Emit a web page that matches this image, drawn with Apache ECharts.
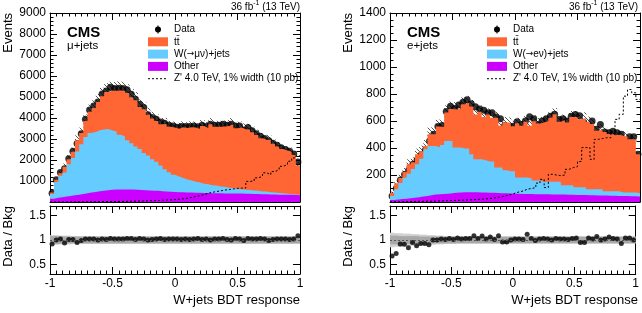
<!DOCTYPE html>
<html><head><meta charset="utf-8">
<script src="https://cdn.jsdelivr.net/npm/echarts@6.0.0/dist/echarts.min.js"></script>
<style>html,body{margin:0;padding:0;background:#fff;}#chart{width:642px;height:313px;}</style>
</head><body><div id="chart"></div>
<script>
// ---------- mu+jets ----------
const muData = [420,1060,1400,1580,2060,2420,2790,3250,3940,4380,
 4570,4760,5140,5290,5460,5400,5420,5400,5350,5130,
 4890,4660,4500,4150,4020,3940,3810,3750,3650,3620,
 3560,3590,3590,3590,3620,3580,3650,3590,3700,3650,
 3650,3700,3650,3700,3620,3620,3430,3550,3390,3250,
 3130,3020,2920,2800,2700,2580,2500,2420,2280,1900];
const muRatio = [0.92,1.00,1.02,0.94,1.01,1.01,0.95,0.99,1.02,1.02,
 1.02,1.00,1.02,1.01,1.03,1.02,1.02,1.02,1.03,1.03,
 1.01,1.03,1.02,1.00,1.01,1.02,1.03,1.01,1.02,1.02,
 1.02,1.01,1.02,1.01,1.02,1.03,1.01,1.02,1.00,1.02,
 1.02,1.03,1.01,1.00,1.03,1.02,0.99,1.03,1.02,1.02,
 1.03,1.02,0.99,1.01,1.02,1.02,1.02,1.01,1.02,1.09];
const muTtbarTop = [457,1060,1373,1681,2040,2396,2937,3283,3863,4294,
 4480,4760,5039,5238,5301,5294,5314,5294,5194,4981,
 4842,4524,4412,4150,3980,3863,3699,3713,3578,3549,
 3490,3554,3520,3554,3549,3476,3614,3520,3700,3578,
 3578,3592,3614,3700,3515,3549,3465,3447,3324,3186,
 3039,2961,2949,2772,2647,2529,2451,2396,2235,1743];
const muWjetsTop = [380,950,1250,1400,1800,2100,2400,2750,3100,3280,
 3330,3420,3450,3480,3400,3360,3200,3120,2940,2800,
 2640,2520,2330,2210,2040,1920,1740,1560,1420,1300,
 1210,1140,1070,1020,960,930,870,850,800,790,
 740,730,680,670,620,610,580,575,545,535,
 505,495,465,455,425,415,390,385,360,350];
const muOtherTop = [150,200,230,260,290,320,350,380,420,450,
 480,510,540,560,580,590,600,600,600,590,
 580,570,560,550,540,530,510,500,490,480,
 470,460,450,450,440,440,430,430,420,420,
 420,410,410,400,400,400,390,390,380,380,
 370,370,360,360,350,350,340,340,330,320];
const muZprime = [0,0,0,0,5,5,5,10,10,10,
 15,15,20,20,25,25,30,30,35,40,
 45,50,55,60,65,70,80,90,100,115,
 130,150,180,220,260,300,350,420,460,500,
 530,570,590,620,650,660,670,980,1000,1150,
 1220,1390,1300,1450,1540,1700,1780,1940,2100,2200];
const muUncTot = [0.10,0.10,0.09,0.09,0.09,0.08,0.08,0.08,0.08,0.08,
 0.08,0.08,0.08,0.08,0.08,0.08,0.08,0.08,0.08,0.08,
 0.08,0.08,0.08,0.08,0.08,0.08,0.08,0.08,0.08,0.08,
 0.08,0.08,0.08,0.08,0.08,0.08,0.08,0.08,0.08,0.08,
 0.08,0.08,0.08,0.08,0.08,0.08,0.08,0.08,0.08,0.08,
 0.08,0.08,0.08,0.08,0.08,0.08,0.08,0.08,0.08,0.08];
const muUncSys = [0.08,0.08,0.08,0.07,0.07,0.07,0.07,0.07,0.07,0.07,
 0.07,0.07,0.07,0.07,0.07,0.07,0.07,0.07,0.07,0.07,
 0.07,0.07,0.07,0.07,0.07,0.07,0.07,0.07,0.07,0.07,
 0.07,0.07,0.07,0.07,0.07,0.07,0.07,0.07,0.07,0.07,
 0.07,0.07,0.07,0.07,0.07,0.07,0.07,0.07,0.07,0.07,
 0.07,0.07,0.07,0.07,0.07,0.07,0.07,0.07,0.07,0.07];

// ---------- e+jets ----------
const elData = [45,100,163,203,235,280,311,350,385,452,
 501,560,567,670,710,692,718,738,757,728,
 706,688,680,661,661,630,617,565,562,562,
 595,575,600,632,617,575,600,617,636,650,
 612,617,600,636,648,638,590,562,600,538,
 575,518,513,525,513,501,452,484,484,353];
const elRatio = [0.67,0.72,0.92,0.91,0.84,0.95,0.88,0.93,0.93,0.90,
 1.00,1.00,1.02,1.01,1.03,1.01,1.04,1.02,1.03,1.03,
 1.09,1.03,1.08,1.02,1.06,1.01,1.09,0.96,0.96,1.00,
 1.02,1.02,1.01,1.12,1.03,0.99,1.02,1.03,1.02,1.00,
 1.03,1.02,1.02,1.01,1.03,1.04,0.95,0.95,1.04,1.02,
 1.07,1.00,1.02,1.06,1.03,1.02,0.93,1.04,1.04,1.00];
const elTtbarTop = [67,139,177,223,280,295,353,376,414,502,
 501,560,556,663,689,685,690,724,735,707,
 648,668,630,648,624,624,566,589,585,562,
 583,564,594,564,599,581,588,599,624,650,
 594,605,588,630,629,613,621,592,577,527,
 537,518,503,495,498,491,486,465,465,353];
const elWjetsTop = [45,95,140,180,210,245,280,320,390,415,
 415,405,422,452,452,403,403,396,396,353,
 316,316,309,300,300,255,255,236,228,228,
 181,181,181,175,160,160,150,150,150,150,
 150,125,125,125,110,110,110,95,95,95,
 95,80,80,80,80,70,70,70,70,65];
const elOtherTop = [15,18,22,25,28,32,36,40,45,50,
 55,58,60,62,65,68,70,72,72,72,
 72,70,70,68,68,66,65,64,63,62,
 62,60,60,60,58,58,58,57,56,56,
 55,55,54,53,52,52,51,50,50,49,
 48,48,47,46,45,44,44,43,42,40];
const elZprime = [2,2,3,3,4,4,5,5,6,6,
 7,8,9,10,11,12,13,14,15,17,
 19,21,23,26,30,35,40,48,55,65,
 75,82,95,100,107,140,168,107,205,200,
 195,200,242,255,262,300,403,403,316,464,
 470,476,476,525,612,650,784,833,809,760];
const elUncTot = [0.15,0.14,0.14,0.13,0.13,0.12,0.12,0.11,0.11,0.10,
 0.10,0.09,0.09,0.08,0.08,0.08,0.07,0.07,0.07,0.07,
 0.07,0.07,0.07,0.07,0.07,0.07,0.07,0.07,0.07,0.07,
 0.07,0.07,0.07,0.07,0.07,0.07,0.07,0.07,0.07,0.07,
 0.07,0.07,0.07,0.07,0.07,0.07,0.07,0.07,0.07,0.07,
 0.07,0.07,0.07,0.07,0.07,0.07,0.07,0.07,0.07,0.07];
const elUncSys = [0.09,0.09,0.08,0.08,0.08,0.08,0.08,0.07,0.07,0.07,
 0.07,0.07,0.07,0.07,0.07,0.07,0.07,0.07,0.07,0.07,
 0.07,0.07,0.07,0.07,0.07,0.07,0.07,0.07,0.07,0.07,
 0.07,0.07,0.07,0.07,0.07,0.07,0.07,0.07,0.07,0.07,
 0.07,0.07,0.07,0.07,0.07,0.07,0.07,0.07,0.07,0.07,
 0.07,0.07,0.07,0.07,0.07,0.07,0.07,0.07,0.07,0.07];

const ratioTicks = [0.5, 1, 1.5];

// ---------- drawing ----------
const FF = '"Liberation Sans", Arial, Helvetica, sans-serif';
const C_TT = '#ff6633', C_W = '#66ccff', C_OTHER = '#cc00ff';
const nBins = muData.length, xLo = -1, xHi = 1, binW = (xHi - xLo) / nBins;
function stepPts(v){ const p = v.map((y,i)=>[xLo + i*binW, y]); p.push([xHi, v[v.length-1]]); return p; }
function centerPts(v){ return v.map((y,i)=>[xLo + (i+0.5)*binW, y]); }

const hatch = document.createElement('canvas'); hatch.width = 4; hatch.height = 4;
const hc = hatch.getContext('2d'); hc.strokeStyle = 'rgba(50,50,50,0.9)'; hc.lineWidth = 0.9;
hc.beginPath(); hc.moveTo(-1,-1); hc.lineTo(5,5); hc.moveTo(-1,3); hc.lineTo(1,5); hc.moveTo(3,-1); hc.lineTo(5,1); hc.stroke();
const hatchFill = {image:hatch, repeat:'repeat'};

const noLine = {width:0, opacity:0};
function area(name, xi, yi, vals, color){
  return {type:'line', name, xAxisIndex:xi, yAxisIndex:yi, data:stepPts(vals), step:'end', symbol:'none',
    lineStyle:noLine, areaStyle:{color, opacity:1}, silent:true};
}
function band(xi, yi, lo, hi, fill){
  return {type:'custom', xAxisIndex:xi, yAxisIndex:yi, silent:true,
    data: lo.map((l,i)=>[xLo + i*binW, xLo + (i+1)*binW, l, hi[i]]),
    encode:{x:[0,1], y:[2,3]},
    renderItem:function(params, api){
      const p0 = api.coord([api.value(0), api.value(3)]);
      const p1 = api.coord([api.value(1), api.value(2)]);
      const cs = params.coordSys;
      const r = echarts.graphic.clipRectByRect(
        {x:p0[0], y:p0[1], width:p1[0]-p0[0]+0.5, height:p1[1]-p0[1]},
        {x:cs.x, y:cs.y, width:cs.width, height:cs.height});
      return r && {type:'rect', shape:r, style:{fill:fill}};
    }};
}
function mainSeries(g, d){
  const xi = 2*g, yi = 2*g;
  return [
    area('ttbar', xi, yi, d.tt, C_TT),
    area('wjets', xi, yi, d.w, C_W),
    area('other', xi, yi, d.o, C_OTHER),
    band(xi, yi, d.tt.map((t,i)=>t*(1-d.u[i])), d.tt.map((t,i)=>t*(1+d.u[i])), hatchFill),
    {type:'line', name:'zp', xAxisIndex:xi, yAxisIndex:yi, data:stepPts(d.z), step:'end', symbol:'none', lineStyle:{color:'#000', width:1, type:[2,2]}, silent:true},
    {type:'scatter', name:'data', xAxisIndex:xi, yAxisIndex:yi, data:centerPts(d.data), symbolSize:7, itemStyle:{color:'#000'}, silent:true}
  ];
}
function ratioSeries(g, d){
  const xi = 2*g, yi = 2*g;
  return [
    band(xi, yi, d.ut.map(u=>1-u), d.ut.map(u=>1+u), '#d0d0d0'),
    band(xi, yi, d.us.map(u=>1-u), d.us.map(u=>1+u), '#a8a8a8'),
    {type:'scatter', xAxisIndex:xi, yAxisIndex:yi, data:centerPts(d.r), symbolSize:5, itemStyle:{color:'#000'}, silent:true,
      markLine:{silent:true, symbol:'none', label:{show:false}, lineStyle:{color:'#555', width:1, type:[2,2]}, data:[{yAxis:1}]}}
  ];
}

const axLine = {show:true, onZero:false, lineStyle:{color:'#000', width:1}};
function xAxes(g, labels){
  const base = {type:'value', gridIndex:g, min:-1, max:1, interval:0.5, splitLine:{show:false}, axisLine:axLine,
    axisTick:{show:true, inside:true, length:7, lineStyle:{color:'#000'}},
    minorTick:{show:true, splitNumber:10, length:3.5, lineStyle:{color:'#000'}}};
  return [
    Object.assign({}, base, {position:'bottom', axisLabel:{show:labels, color:'#000', fontSize:12, fontFamily:FF, margin:4}}),
    Object.assign({}, base, {position:'top', axisLabel:{show:false}})
  ];
}
function yMain(g, max, interval, minorSplit){
  const base = {type:'value', gridIndex:g, min:0, max, interval, splitLine:{show:false}, axisLine:axLine,
    axisTick:{show:true, inside:true, length:7, lineStyle:{color:'#000'}},
    minorTick:{show:true, splitNumber:minorSplit, length:3.5, lineStyle:{color:'#000'}}};
  return [
    Object.assign({}, base, {position:'left', axisLabel:{color:'#000', fontSize:12, fontFamily:FF, margin:4, formatter:v=> v===0 ? '' : String(v)}}),
    Object.assign({}, base, {position:'right', axisLabel:{show:false}})
  ];
}
function yRatio(g){
  const base = {type:'value', gridIndex:g, min:0.3, max:1.7, splitLine:{show:false}, axisLine:axLine,
    axisTick:{show:true, inside:true, length:7, customValues:ratioTicks, lineStyle:{color:'#000'}},
    minorTick:{show:false}};
  return [
    Object.assign({}, base, {position:'left', axisLabel:{color:'#000', fontSize:12, fontFamily:FF, margin:4, customValues:ratioTicks}}),
    Object.assign({}, base, {position:'right', axisLabel:{show:false}})
  ];
}

function txt(x, y, text, size, extra){
  return {type:'text', x, y, z:50, style:Object.assign({text, fontSize:size, fontFamily:FF, fill:'#000', verticalAlign:'middle'}, extra||{})};
}
function wText(x, y, lep){
  return {type:'text', x, y, z:50, style:{text:'{a|W(}{b|\u2192}{a|' + lep + '\u03bd)+jets}', verticalAlign:'middle',
    rich:{a:{fontSize:10, fontFamily:FF, fill:'#000'}, b:{fontSize:9, fontFamily:'"DejaVu Sans", sans-serif', fill:'#000'}}}};
}
function legend(x0, lep){
  const tx = x0 + 26, rows = [29.5, 41.8, 54.1, 66.4, 78.7];
  return [
    {type:'line', z:50, shape:{x1:x0+10, y1:25.5, x2:x0+10, y2:33.5}, style:{stroke:'#000', lineWidth:1}},
    {type:'circle', z:50, shape:{cx:x0+10, cy:rows[0], r:3}, style:{fill:'#000'}},
    {type:'rect', z:50, shape:{x:x0, y:rows[1]-4.5, width:20, height:9}, style:{fill:C_TT}},
    {type:'rect', z:50, shape:{x:x0, y:rows[2]-4.5, width:20, height:9}, style:{fill:C_W}},
    {type:'rect', z:50, shape:{x:x0, y:rows[3]-4.5, width:20, height:9}, style:{fill:C_OTHER}},
    {type:'line', z:50, shape:{x1:x0, y1:rows[4], x2:x0+20, y2:rows[4]}, style:{stroke:'#000', lineWidth:1, lineDash:[2,2]}},
    txt(tx, rows[0], 'Data', 10),
    txt(tx, rows[1], 'tt\u0304', 10),
    wText(tx, rows[2], lep),
    txt(tx, rows[3], 'Other', 10),
    txt(tx, rows[4], "Z' 4.0 TeV, 1% width (10 pb)", 10)
  ];
}
function lumi(xr){
  return {type:'text', x:xr, y:6, z:50, style:{text:'{a|36 fb}{b|-1}{a| (13 TeV)}', align:'right', verticalAlign:'middle',
    rich:{a:{fontSize:10, fontFamily:FF, fill:'#000', lineHeight:12, verticalAlign:'bottom'}, b:{fontSize:7, fontFamily:FF, fill:'#000', lineHeight:12, verticalAlign:'top'}}}};
}
function vtitle(x, yTop, text){
  return {type:'text', x, y:yTop, rotation:Math.PI/2, z:50, style:{text, fontSize:13, fontFamily:FF, fill:'#000', align:'right', verticalAlign:'middle'}};
}

const chart = echarts.init(document.getElementById('chart'), null, {renderer:'canvas'});
chart.setOption({
  animation:false,
  backgroundColor:'#fff',
  textStyle:{fontFamily:FF},
  grid:[
    {left:50, top:13, width:250, height:189},
    {left:50, top:206, width:250, height:68},
    {left:390, top:13, width:250, height:189},
    {left:390, top:206, width:250, height:68}
  ],
  xAxis:[].concat(xAxes(0,false), xAxes(1,true), xAxes(2,false), xAxes(3,true)),
  yAxis:[].concat(yMain(0,9000,1000,5), yRatio(1), yMain(2,1400,200,4), yRatio(3)),
  series:[].concat(
    mainSeries(0, {tt:muTtbarTop, w:muWjetsTop, o:muOtherTop, u:muUncTot, z:muZprime, data:muData}),
    ratioSeries(1, {ut:muUncTot, us:muUncSys, r:muRatio}),
    mainSeries(2, {tt:elTtbarTop, w:elWjetsTop, o:elOtherTop, u:elUncTot, z:elZprime, data:elData}),
    ratioSeries(3, {ut:elUncTot, us:elUncSys, r:elRatio})
  ),
  graphic:[].concat(
    [lumi(300), lumi(638),
     txt(67, 32.5, 'CMS', 15, {fontWeight:'bold'}), txt(67, 46, '\u03bc+jets', 11.5),
     txt(407, 32.5, 'CMS', 15, {fontWeight:'bold'}), txt(407, 46, 'e+jets', 11.5),
     vtitle(8, 13, 'Events'), vtitle(8, 206, 'Data / Bkg'),
     vtitle(348, 13, 'Events'), vtitle(348, 206, 'Data / Bkg'),
     txt(300, 300, 'W+jets BDT response', 13, {align:'right'}),
     txt(638, 300, 'W+jets BDT response', 13, {align:'right'})],
    legend(148, '\u03bc'),
    legend(487, 'e')
  )
});
</script>
</body></html>
